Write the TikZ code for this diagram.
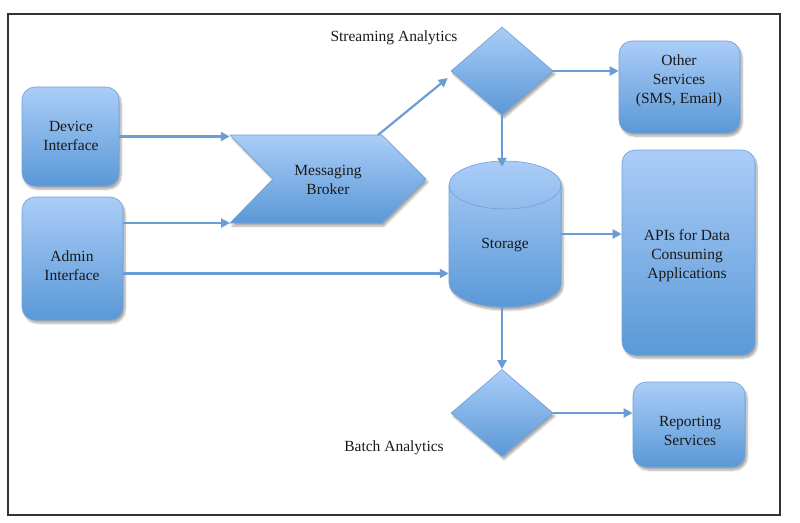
\documentclass[tikz,border=0pt]{standalone}
\usepackage{fontspec}
\setmainfont{Liberation Serif}
\usetikzlibrary{arrows.meta,shadows.blur,shapes.geometric,calc}
\definecolor{topc}{HTML}{AACDF7}
\definecolor{botc}{HTML}{5A98D7}
\definecolor{edgec}{HTML}{6FA0D8}
\definecolor{arrc}{HTML}{6A9DD5}
\definecolor{framec}{HTML}{333333}
\tikzset{
  shade3d/.style={top color=topc, bottom color=botc, draw=edgec, line width=0.6pt,
    blur shadow={shadow xshift=2pt, shadow yshift=-3pt, shadow opacity=35, shadow blur steps=6, shadow blur radius=2pt}},
  box/.style={shade3d, rounded corners=13pt, inner sep=0pt},
  dia/.style={shade3d, diamond, inner sep=0pt},
  ghost/.style={inner sep=0pt, draw=none},
  lbl/.style={font=\fontsize{15.5}{19}\selectfont, text=black!90, align=center, inner sep=0pt},
  conn/.style={draw=arrc, line width=2.2pt, -{Triangle[length=9pt,width=9pt]}},
}
\begin{document}
\begin{tikzpicture}[x=1pt,y=-1pt]
\useasboundingbox (0,0) rectangle (800,522);
\draw[framec, line width=1.1pt] (8,14) rectangle (780,515);

% boxes
\node[box, minimum width=97pt, minimum height=99pt] (device) at (70.5,136.5) {};
\node[box, minimum width=101pt, minimum height=123pt] (admin) at (72.5,258.5) {};
\node[box, minimum width=121pt, minimum height=92pt] (other) at (679.5,87) {};
\node[box, minimum width=133pt, minimum height=205pt] (apis) at (688.5,252.5) {};
\node[box, minimum width=112pt, minimum height=85pt] (report) at (689,424.5) {};

% diamonds
\node[dia, minimum width=102pt, minimum height=88pt] (stream) at (502,71) {};
\node[dia, minimum width=102pt, minimum height=87pt] (batch) at (502,413) {};

% chevron (messaging broker)
\coordinate (btl) at (230,135);
\coordinate (btr) at (382,135);
\coordinate (btip) at (426,179);
\coordinate (bbr) at (382,223);
\coordinate (bbl) at (230,223);
\coordinate (bnotch) at (273,179);
\path[shade3d] (btl) -- (btr) -- (btip) -- (bbr) -- (bbl) -- (bnotch) -- cycle;
\node[ghost, minimum width=196pt, minimum height=88pt] (broker) at (328,179) {};

% cylinder (storage)
\path[shade3d] (449,185) -- (449,283) arc[start angle=180, end angle=0, x radius=56, y radius=24]
  -- (561,185) arc[start angle=0, end angle=-180, x radius=56, y radius=24] -- cycle;
\draw[edgec, line width=0.6pt] (449,185) arc[start angle=180, end angle=0, x radius=56, y radius=24];
\node[ghost, minimum width=112pt, minimum height=146pt] (storage) at (505,234) {};

% texts
\node[lbl] (tdevice) at (71,136) {Device\\Interface};
\node[lbl] (tadmin) at (72,265.5) {Admin\\Interface};
\node[lbl] (tbroker) at (328,180) {Messaging\\Broker};
\node[lbl] (tother) at (679,81) {Other\\Services\\(SMS, Email)};
\node[lbl] (tstorage) at (505,245) {Storage};
\node[lbl] (tapis) at (687,256) {APIs for Data\\Consuming\\Applications};
\node[lbl] (treport) at (690,431) {Reporting\\Services};
\node[lbl] (tstream) at (394,38) {Streaming Analytics};
\node[lbl] (tbatch) at (394,448) {Batch Analytics};

% connectors
\coordinate (a3) at ($(admin.east)+(0,15)$);
\draw[conn] (device.east) -- (device.east -| broker.west);
\draw[conn] (bbl -| admin.east) -- (bbl);
\draw[conn] (a3) -- (a3 -| storage.west);
\draw[conn] ($(btr)+(-4,0)$) -- ($(stream.west)+(-3,7)$);
\draw[conn] (stream.east) -- (stream.east -| other.west);
\draw[conn, shorten >=-6pt] (stream.south) -- (stream.south |- storage.north);
\draw[conn] (storage.east) -- (storage.east -| apis.west);
\draw[conn] (batch.north |- storage.south) -- (batch.north);
\draw[conn] (batch.east) -- (batch.east -| report.west);
\end{tikzpicture}
\end{document}
